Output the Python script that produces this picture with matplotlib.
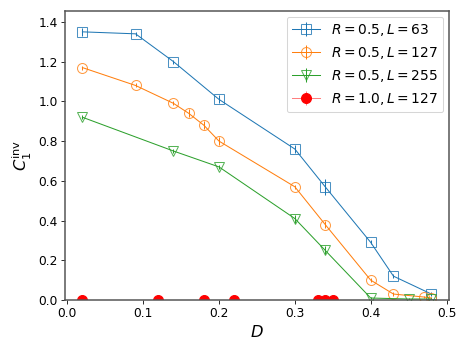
import numpy as np
import matplotlib
matplotlib.use("Agg")
import matplotlib.pyplot as plt
from matplotlib.path import Path
from matplotlib.colors import to_rgba

# R = 0.5, L = 63
d_63 = [0.02, 0.09, 0.14, 0.20, 0.30, 0.34, 0.40, 0.43, 0.48]
c_63 = [1.35, 1.34, 1.20, 1.01, 0.76, 0.57, 0.29, 0.12, 0.03]
e_63 = [0.02, 0.01, 0.01, 0.02, 0.02, 0.04, 0.01, 0.01, 0.01]

# R = 0.5, L = 127
d_127 = [0.02, 0.09, 0.14, 0.16, 0.18, 0.20, 0.30, 0.34, 0.40, 0.43, 0.47, 0.48]
c_127 = [1.17, 1.08, 0.99, 0.94, 0.88, 0.80, 0.57, 0.38, 0.10, 0.03, 0.015, 0.01]
e_127 = [0.01, 0.01, 0.01, 0.02, 0.02, 0.02, 0.01, 0.02, 0.01, 0.01, 0.005, 0.005]

# R = 0.5, L = 255
d_255 = [0.02, 0.14, 0.20, 0.30, 0.34, 0.40, 0.45, 0.48]
c_255 = [0.92, 0.75, 0.67, 0.41, 0.25, 0.01, 0.005, 0.005]
e_255 = [0.01, 0.01, 0.01, 0.02, 0.02, 0.005, 0.003, 0.003]

# R = 1.0, L = 127
d_r1 = [0.02, 0.12, 0.18, 0.22, 0.33, 0.34, 0.35]
c_r1 = [0.0, 0.0, 0.0, 0.0, 0.0, 0.0, 0.0]
e_r1 = [0.0, 0.0, 0.0, 0.0, 0.0, 0.0, 0.0]

dpi = 73.2
fig = plt.figure(figsize=(469 / dpi, 351 / dpi), dpi=dpi)
ax = fig.add_axes([0.1386, 0.1453, 0.957 - 0.1386, 0.9687 - 0.1453])

ms = 9.8
ax.errorbar(d_63, c_63, yerr=e_63, marker='s', ms=ms, mfc='none',
            mec=to_rgba('C0', 0.8), color='C0', lw=1, label=r'$R=0.5, L=63$')
ax.errorbar(d_127, c_127, yerr=e_127, marker='o', ms=ms, mfc='none',
            mec=to_rgba('C1', 0.8), color='C1', lw=1, label=r'$R=0.5, L=127$')
ax.errorbar(d_255, c_255, yerr=e_255, marker='v', ms=ms, mfc='none',
            mec=to_rgba('C2', 0.8), color='C2', lw=1, label=r'$R=0.5, L=255$')
red = ax.errorbar(d_r1, c_r1, yerr=e_r1, marker='o', ms=ms, mfc='red', mec='red',
                  color=(1, 0, 0, 0.5), ls='-', lw=1, label=r'$R=1.0, L=127$')
# clip the red markers at the axes edge (half circles on y=0)
red[0].set_clip_path(Path.unit_rectangle(), ax.transAxes)

ax.set_xlim(-0.003, 0.503)
ax.set_ylim(0, 1.455)
ax.set_xticks([0.0, 0.1, 0.2, 0.3, 0.4, 0.5])
ax.set_yticks([0.0, 0.2, 0.4, 0.6, 0.8, 1.0, 1.2, 1.4])
ax.tick_params(labelsize=12)
ax.set_xlabel(r'$D$', fontsize=16)
ax.set_ylabel(r'$C_1^{\rm inv}$', fontsize=16)
for s in ax.spines.values():
    s.set_color('#555555')
    s.set_linewidth(1.5)

ax.legend(loc='upper right', fontsize=13.6, borderaxespad=0.4)

fig.savefig('out.png', dpi=dpi)
